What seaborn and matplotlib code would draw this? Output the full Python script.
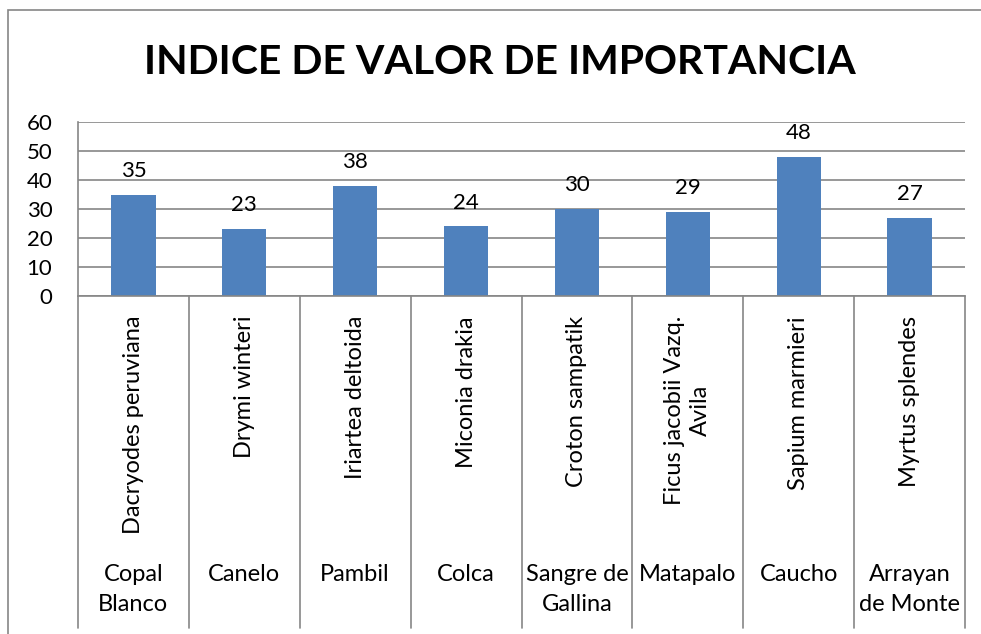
import matplotlib
matplotlib.use("Agg")
import matplotlib.pyplot as plt
import matplotlib.transforms as mtransforms
from matplotlib.patches import Rectangle
import seaborn as sns
import pandas as pd

# ---- data ----
common_names = ["Copal\nBlanco", "Canelo", "Pambil", "Colca", "Sangre de\nGallina",
                "Matapalo", "Caucho", "Arrayan\nde Monte"]
species = ["Dacryodes peruviana", "Drymi winteri", "Iriartea deltoida", "Miconia drakia",
           "Croton sampatik", "Ficus jacobii Vazq.\nAvila", "Sapium marmieri", "Myrtus splendes"]
values = [35, 23, 38, 24, 30, 29, 48, 27]
yticks = [0, 10, 20, 30, 40, 50, 60]
title = "INDICE DE VALOR DE IMPORTANCIA"

sns.set_theme(style="white")
FONT = ["Lato", "DejaVu Sans"]
plt.rcParams["font.family"] = FONT
plt.rcParams["text.color"] = "black"
plt.rcParams["ytick.color"] = "black"

W, H = 981, 634
fig = plt.figure(figsize=(W / 100, H / 100), dpi=100)

# outer chart border
fig.patches.append(Rectangle((8 / W, -0.1), 1.2, (H - 10) / H + 0.1, transform=fig.transFigure,
                             fill=False, edgecolor="#868686", linewidth=1.2))

left, right, top, bottom = 78, 965, 122, 296
ax = fig.add_axes([left / W, (H - bottom) / H, (right - left) / W, (bottom - top) / H])

df = pd.DataFrame({"species": species, "value": values})
sns.barplot(data=df, x="species", y="value", color="#4F81BD", saturation=1, width=0.4,
            ax=ax, edgecolor="none")

ax.set_ylim(0, 60)
ax.set_xlim(-0.5, len(values) - 0.5)
ax.set_yticks(yticks)
ax.set_yticklabels([str(t) for t in yticks], fontsize=16)
ax.tick_params(axis="y", length=0, pad=18.5, labelcolor="black")
ax.set_xticks([])
ax.set_xlabel("")
ax.set_ylabel("")
ax.yaxis.grid(True, color="#868686", linewidth=1.2)
ax.set_axisbelow(True)
for s in ["top", "right"]:
    ax.spines[s].set_visible(False)
for s in ["left", "bottom"]:
    ax.spines[s].set_color("#868686")
    ax.spines[s].set_linewidth(1.2)

# value labels
for i, v in enumerate(values):
    ax.annotate(str(v), (i, v), xytext=(0, 10), textcoords="offset points",
                ha="center", va="bottom", fontsize=16, color="black")

# category separators and multi-level labels
trans = mtransforms.blended_transform_factory(ax.transData, fig.transFigure)
y_axis = (H - bottom) / H
y_end = (H - 628) / H
for i in range(len(values) + 1):
    ax.plot([i - 0.5, i - 0.5], [y_axis, y_end], transform=trans, color="#868686",
            linewidth=1.2, clip_on=False)

for i, (sp, cn) in enumerate(zip(species, common_names)):
    ax.text(i, (H - 316) / H, sp, transform=trans, rotation=90, ha="center", va="top",
            fontsize=17, multialignment="center", linespacing=1.3, color="black")
    ax.text(i, (H - 564) / H, cn, transform=trans, ha="center", va="top",
            fontsize=17, multialignment="center", linespacing=1.55, color="black")

fig.text(500 / W, (H - 62) / H, title, ha="center", va="center", fontsize=29.5,
         fontweight="bold", color="black")

fig.savefig("out.png", dpi=100)
